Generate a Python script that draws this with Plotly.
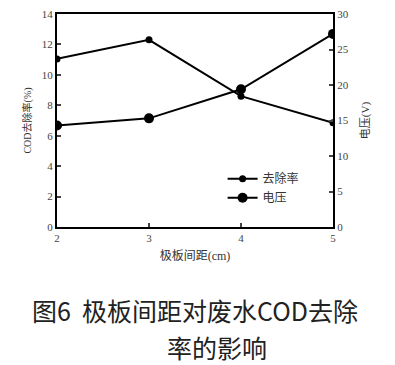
import plotly.graph_objects as go

spacing = [2, 3, 4, 5]
removal_rate = [11.05, 12.3, 8.6, 6.85]
voltage = [14.3, 15.3, 19.4, 27.2]
left_ticks = [0, 2, 4, 6, 8, 10, 12, 14]
right_ticks = [0, 5, 10, 15, 20, 25, 30]

FONT = "Liberation Serif, DejaVu Serif, Noto Sans CJK SC"
TICKC = "#444"

fig = go.Figure()
fig.add_trace(go.Scatter(x=spacing, y=removal_rate, name="去除率", mode="lines+markers",
                         line=dict(color="black", width=2), marker=dict(size=7, color="black")))
fig.add_trace(go.Scatter(x=spacing, y=voltage, name="电压", mode="lines+markers", yaxis="y2",
                         line=dict(color="black", width=2), marker=dict(size=10, color="black")))

fig.update_layout(
    width=387, height=357,
    margin=dict(l=49, r=62, t=6, b=138),
    paper_bgcolor="white", plot_bgcolor="white",
    font=dict(family=FONT, color=TICKC, size=11),
    showlegend=True,
    legend=dict(x=0.60, y=0.295, xanchor="left", yanchor="top", bgcolor="rgba(0,0,0,0)",
                font=dict(size=12, color="#333", family="Noto Sans CJK SC"), tracegroupgap=2),
    xaxis=dict(range=[2, 5], tickvals=spacing, ticks="inside", ticklen=4, tickwidth=2,
               showline=True, linecolor="black", linewidth=2, mirror=True, showgrid=False,
               zeroline=False, automargin=False, ticklabeloverflow="allow",
               tickfont=dict(size=11, color=TICKC),
               title=dict(text="极板间距(cm)", font=dict(size=12, color="#333"), standoff=8)),
    yaxis=dict(range=[0, 14], tickvals=left_ticks, ticks="inside", ticklen=4, tickwidth=2,
               showline=True, linecolor="black", linewidth=2, showgrid=False, zeroline=False,
               automargin=False, ticklabeloverflow="allow", tickfont=dict(size=11, color=TICKC),
               title=dict(text="COD去除率(%)", font=dict(size=10, color="#333"), standoff=8)),
    yaxis2=dict(range=[0, 30], tickvals=right_ticks, ticks="inside", ticklen=4, tickwidth=2,
                overlaying="y", side="right", showline=True, linecolor="black", linewidth=2,
                showgrid=False, zeroline=False, automargin=False, ticklabeloverflow="allow",
                tickfont=dict(size=11, color=TICKC),
                title=dict(text="电压(V)", font=dict(size=11, color="#333"), standoff=14)),
    annotations=[
        dict(text="图6  极板间距对废水COD去除", x=0.5, y=-0.392, xref="paper", yref="paper",
             xanchor="center", yanchor="middle", showarrow=False,
             font=dict(size=25, color="#222", family="Noto Sans CJK SC")),
        dict(text="率的影响", x=0.58, y=-0.562, xref="paper", yref="paper",
             xanchor="center", yanchor="middle", showarrow=False,
             font=dict(size=25, color="#222", family="Noto Sans CJK SC")),
    ],
)

fig.write_html("out.html")
